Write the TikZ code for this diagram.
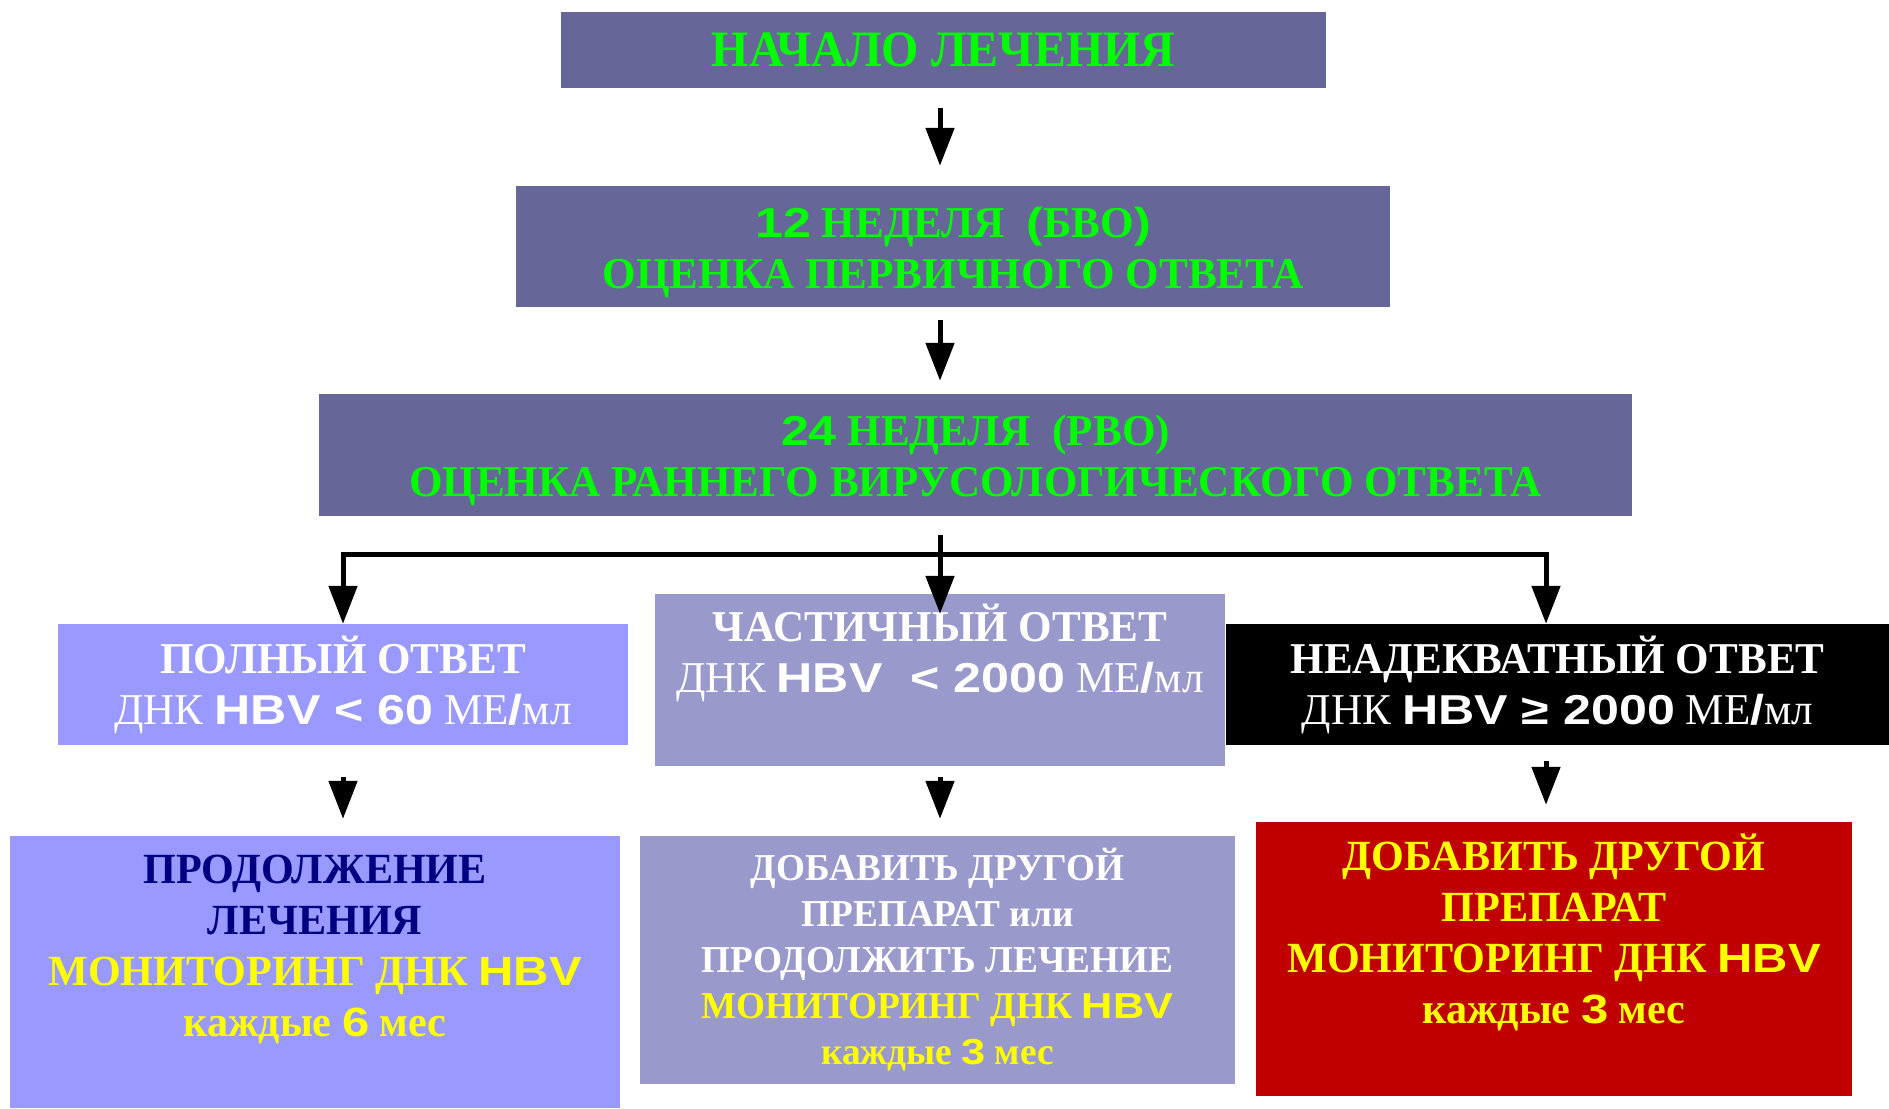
\documentclass[tikz,border=0pt]{standalone}
\usepackage{fontspec}
\setmainfont{Liberation Serif}[FakeStretch=0.98]
\setsansfont{Liberation Sans}[Scale=0.95,FakeStretch=1.2]
\newfontfamily\narrowserif{Liberation Serif}[FakeStretch=0.94]
\usepackage{xcolor}
\usetikzlibrary{positioning, arrows.meta}
\definecolor{slate}{HTML}{666699}
\definecolor{brightgreen}{HTML}{00FF00}
\definecolor{periwinkle}{HTML}{9999FF}
\definecolor{lavender}{HTML}{9999CC}
\definecolor{darkred}{HTML}{C00000}
\definecolor{navyblue}{HTML}{000080}
\definecolor{brightyellow}{HTML}{FFFF00}
\newcommand{\hb}[1]{{\sffamily\bfseries #1}}

\begin{document}
\begin{tikzpicture}[x=1pt,y=1pt,
    box/.style={rectangle,inner sep=0pt,align=center},
    huge/.style={font=\narrowserif\fontsize{51}{60}\selectfont\bfseries},
    big/.style={font=\fontsize{44}{51}\selectfont\bfseries},
    mid/.style={font=\fontsize{43}{51}\selectfont\bfseries},
    small/.style={font=\fontsize{38}{46}\selectfont\bfseries},
    arr/.style={line width=5pt,-{Triangle[width=28pt,length=38pt]}}]
    \useasboundingbox (0,0) rectangle (1889,1108);
    % top of the scheme
    \node[box,huge,fill=slate,text=brightgreen,minimum width=765pt,minimum height=76pt] (start) at (943.5,1058) {НАЧАЛО ЛЕЧЕНИЯ};
    \node[box,fill=slate,minimum width=874pt,minimum height=121pt] (wk12) at (953,861.5) {};
    \node[box,big,text=brightgreen] (wk12txt) at ([yshift=-6.5pt]wk12.center)
        {\hb{12} НЕДЕЛЯ\ \ \hb{(}БВО\hb{)}\\ ОЦЕНКА ПЕРВИЧНОГО ОТВЕТА};
    \node[box,fill=slate,minimum width=1313pt,minimum height=122pt] (wk24) at (975.5,653) {};
    \node[box,big,text=brightgreen] (wk24txt) at ([yshift=-5.5pt]wk24.center)
        {\hb{24} НЕДЕЛЯ\ \ (РВО)\\ ОЦЕНКА РАННЕГО ВИРУСОЛОГИЧЕСКОГО ОТВЕТА};
    % responses
    \node[box,big,fill=periwinkle,text=white,minimum width=570pt,minimum height=121pt] (full) at (343,423.5)
        {ПОЛНЫЙ ОТВЕТ\\ \textmd{ДНК} \hb{HBV < 60} \textmd{МЕ}\hb{/}\textmd{мл}};
    \node[box,fill=lavender,minimum width=570pt,minimum height=172pt] (part) at (940,428) {};
    \node[box,big,text=white] (parttxt) at ([yshift=-59pt]part.north)
        {ЧАСТИЧНЫЙ ОТВЕТ\\ \textmd{ДНК} \hb{HBV\ \ < 2000} \textmd{МЕ}\hb{/}\textmd{мл}};
    \node[box,big,fill=black,text=white,minimum width=663pt,minimum height=121pt] (poor) at (1557.5,423.5)
        {НЕАДЕКВАТНЫЙ ОТВЕТ\\ \textmd{ДНК} \hb{HBV ≥ 2000} \textmd{МЕ}\hb{/}\textmd{мл}};
    % what to do next
    \node[box,fill=periwinkle,minimum width=610pt,minimum height=272pt] (cont) at (315,136) {};
    \node[box,mid,text=brightyellow] (conttxt) at ([yshift=-114pt]cont.north)
        {\textcolor{navyblue}{ПРОДОЛЖЕНИЕ}\\ \textcolor{navyblue}{ЛЕЧЕНИЯ}\\ МОНИТОРИНГ ДНК \hb{HBV}\\ каждые \hb{6} мес};
    \node[box,small,fill=lavender,text=white,minimum width=595pt,minimum height=248pt] (addor) at (937.5,148)
        {ДОБАВИТЬ ДРУГОЙ\\ ПРЕПАРАТ или\\ ПРОДОЛЖИТЬ ЛЕЧЕНИЕ\\ \textcolor{brightyellow}{МОНИТОРИНГ ДНК \hb{HBV}}\\ \textcolor{brightyellow}{каждые \hb{3} мес}};
    \node[box,fill=darkred,minimum width=596pt,minimum height=274pt] (add) at (1554,149) {};
    \node[box,mid,text=brightyellow] (addtxt) at ([yshift=-110.5pt]add.north)
        {ДОБАВИТЬ ДРУГОЙ\\ ПРЕПАРАТ\\ МОНИТОРИНГ ДНК \hb{HBV}\\ каждые \hb{3} мес};
    % arrows
    \coordinate (axis) at (940,0);
    \coordinate (fork) at (940,553);
    \coordinate (forkl) at (343,553);
    \coordinate (forkr) at (1546,553);
    \draw[arr,shorten <=20pt,shorten >=20pt] (start.south -| axis) -- (wk12.north -| axis);
    \draw[arr,shorten <=13pt,shorten >=13pt] (wk12.south -| axis) -- (wk24.north -| axis);
    \draw[line width=5pt,shorten <=19pt] (wk24.south -| axis) -- (fork);
    \draw[line width=5pt,line cap=rect] (forkl) -- (forkr);
    \draw[arr] (fork) -- ([yshift=-20pt]part.north);
    \draw[arr] (forkl) -- (full.north);
    \draw[arr] (forkr) -- (forkr |- poor.north);
    \draw[arr,shorten <=32pt,shorten >=17pt] (full.south) -- (full.south |- cont.north);
    \draw[arr,shorten <=11pt,shorten >=17pt] (part.south) -- (part.south |- addor.north);
    \draw[arr,shorten <=16pt,shorten >=17pt] (forkr |- poor.south) -- (forkr |- add.north);
\end{tikzpicture}
\end{document}
